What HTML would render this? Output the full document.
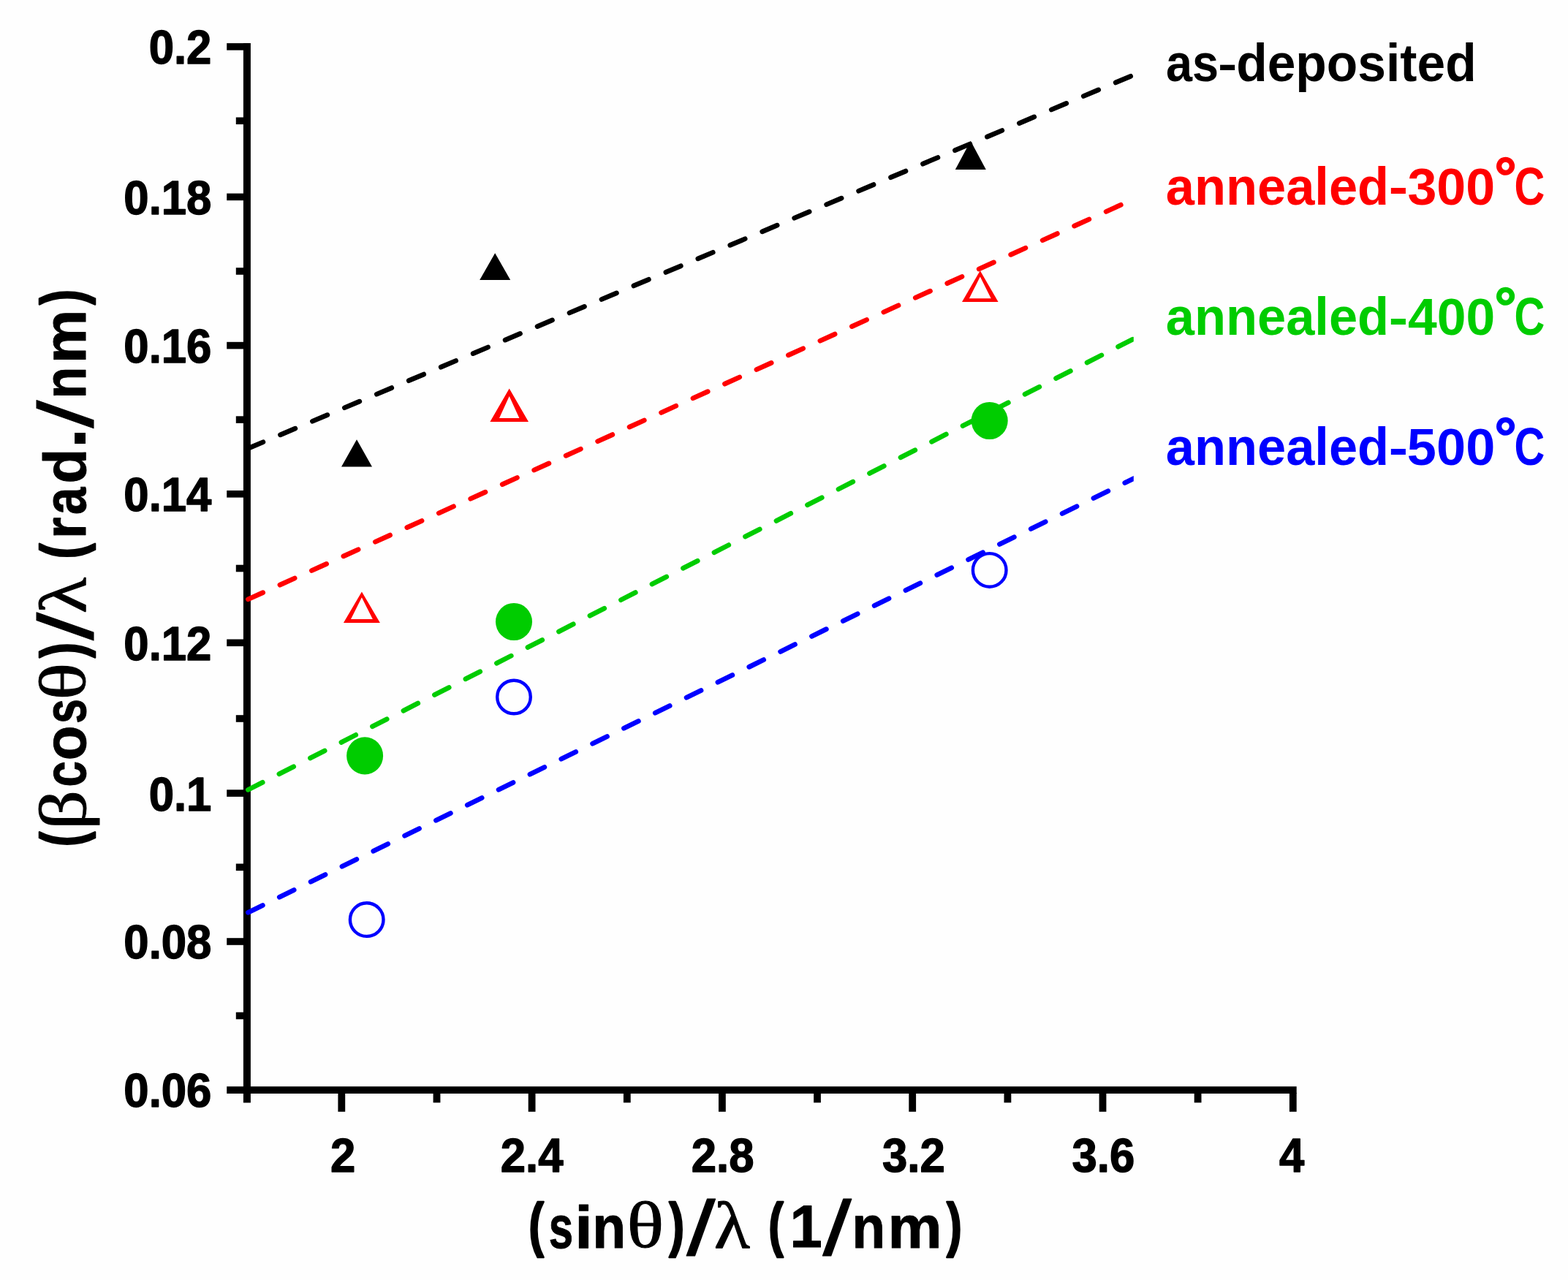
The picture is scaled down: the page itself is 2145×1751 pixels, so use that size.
<!DOCTYPE html>
<html lang="en"><head><meta charset="utf-8"><title>Williamson-Hall plot</title>
<style>
html,body{margin:0;padding:0;background:#fefefe;}
body{width:2145px;height:1751px;overflow:hidden;}
svg{display:block;}
text{font-family:"Liberation Sans",sans-serif;font-weight:bold;font-kerning:none;white-space:pre;}
.r{font-weight:normal;}
.g{font-family:"Liberation Serif",serif;font-weight:normal;}
.gb{font-family:"Liberation Serif",serif;font-weight:bold;}
.ax line{stroke:#000;fill:none;}
.dl line{fill:none;stroke-width:6.7;stroke-linecap:round;stroke-dasharray:22.2 25.5;stroke-dashoffset:-2.7;}
</style></head><body>
<svg width="2145" height="1751" viewBox="0 0 2145 1751">
<rect width="2145" height="1751" fill="#fefefe"/>
<defs><clipPath id="pc"><rect x="333" y="0" width="1217.8" height="1486"/></clipPath></defs>
<g class="ax">
<line x1="337.9" y1="59.1" x2="337.9" y2="1508.4" stroke-width="10"/>
<line x1="310.2" y1="1491.1" x2="1773.7" y2="1491.1" stroke-width="9.8"/>
<line x1="310.2" y1="63.9" x2="334" y2="63.9" stroke-width="9.6"/>
<line x1="322.8" y1="165.3" x2="334" y2="165.3" stroke-width="9.6"/>
<line x1="310.2" y1="269.4" x2="334" y2="269.4" stroke-width="9.6"/>
<line x1="322.8" y1="371.0" x2="334" y2="371.0" stroke-width="9.6"/>
<line x1="310.2" y1="472.6" x2="334" y2="472.6" stroke-width="9.6"/>
<line x1="322.8" y1="574.1" x2="334" y2="574.1" stroke-width="9.6"/>
<line x1="310.2" y1="675.8" x2="334" y2="675.8" stroke-width="9.6"/>
<line x1="322.8" y1="777.5" x2="334" y2="777.5" stroke-width="9.6"/>
<line x1="310.2" y1="879.3" x2="334" y2="879.3" stroke-width="9.6"/>
<line x1="322.8" y1="983.0" x2="334" y2="983.0" stroke-width="9.6"/>
<line x1="310.2" y1="1085.1" x2="334" y2="1085.1" stroke-width="9.6"/>
<line x1="322.8" y1="1186.3" x2="334" y2="1186.3" stroke-width="9.6"/>
<line x1="310.2" y1="1288.0" x2="334" y2="1288.0" stroke-width="9.6"/>
<line x1="322.8" y1="1389.5" x2="334" y2="1389.5" stroke-width="9.6"/>
<line x1="467.3" y1="1495" x2="467.3" y2="1520.8" stroke-width="9.8"/>
<line x1="597.5" y1="1495" x2="597.5" y2="1508.4" stroke-width="9.8"/>
<line x1="727.6" y1="1495" x2="727.6" y2="1520.8" stroke-width="9.8"/>
<line x1="857.8" y1="1495" x2="857.8" y2="1508.4" stroke-width="9.8"/>
<line x1="987.9" y1="1495" x2="987.9" y2="1520.8" stroke-width="9.8"/>
<line x1="1118.0" y1="1495" x2="1118.0" y2="1508.4" stroke-width="9.8"/>
<line x1="1248.2" y1="1495" x2="1248.2" y2="1520.8" stroke-width="9.8"/>
<line x1="1378.4" y1="1495" x2="1378.4" y2="1508.4" stroke-width="9.8"/>
<line x1="1508.5" y1="1495" x2="1508.5" y2="1520.8" stroke-width="9.8"/>
<line x1="1638.6" y1="1495" x2="1638.6" y2="1508.4" stroke-width="9.8"/>
<line x1="1768.8" y1="1495" x2="1768.8" y2="1520.8" stroke-width="9.8"/>
</g>
<g class="dl" clip-path="url(#pc)">
<line x1="337.0" y1="614.4" x2="1551.0" y2="102.5" stroke="#000000"/>
<line x1="337.0" y1="820.9" x2="1551.0" y2="272.3" stroke="#ff0000"/>
<line x1="337.0" y1="1081.6" x2="1551.0" y2="463.4" stroke="#00cc00"/>
<line x1="337.0" y1="1249.4" x2="1551.0" y2="654.5" stroke="#0000ff"/>
</g>
<g>
<polygon points="488.0,601.2 467.0,638.6 509.0,638.6" fill="#000"/>
<polygon points="677.2,346.3 656.2,383.1 698.2,383.1" fill="#000"/>
<polygon points="1327.8,192.7 1306.8,232.0 1348.8,232.0" fill="#000"/>
<polygon fill="#ff0000" points="494.9,809.4 469.9,851.9 519.9,851.9"/>
<polygon fill="#fefefe" points="494.9,817.3 509.8,847.0 480.0,847.0"/>
<polygon fill="#ff0000" points="696.7,531.5 670.4,576.9 723.0,576.9"/>
<polygon fill="#fefefe" points="696.7,542.0 710.4,572.0 683.0,572.0"/>
<polygon fill="#ff0000" points="1340.8,370.2 1316.0,413.1 1365.6,413.1"/>
<polygon fill="#fefefe" points="1340.8,378.4 1355.7,408.2 1325.9,408.2"/>
<ellipse cx="499.1" cy="1033.9" rx="25" ry="25.6" fill="#00cc00"/>
<ellipse cx="703.0" cy="850.5" rx="25" ry="25.6" fill="#00cc00"/>
<ellipse cx="1353.7" cy="575.5" rx="25" ry="25.6" fill="#00cc00"/>
<circle cx="501.7" cy="1258.1" r="22.8" fill="none" stroke="#0000ff" stroke-width="4.4"/>
<circle cx="703.0" cy="953.5" r="22.8" fill="none" stroke="#0000ff" stroke-width="4.4"/>
<circle cx="1353.7" cy="779.9" r="22.8" fill="none" stroke="#0000ff" stroke-width="4.4"/>
</g>
<g font-size="64.6" stroke="#000" stroke-width="1.4" stroke-linejoin="round">
<text transform="translate(203.66 87.34) scale(0.9547 1)">0.2</text>
<text transform="translate(169.36 292.84) scale(0.9547 1)">0.18</text>
<text transform="translate(169.36 496.04) scale(0.9547 1)">0.16</text>
<text transform="translate(169.36 699.24) scale(0.9547 1)">0.14</text>
<text transform="translate(169.36 902.74) scale(0.9547 1)">0.12</text>
<text transform="translate(203.66 1108.54) scale(0.9547 1)">0.1</text>
<text transform="translate(169.36 1311.44) scale(0.9547 1)">0.08</text>
<text transform="translate(169.36 1514.44) scale(0.9547 1)">0.06</text>
<text transform="translate(452.02 1603.30) scale(0.9547 1)">2</text>
<text transform="translate(684.73 1603.30) scale(0.9547 1)">2.4</text>
<text transform="translate(945.71 1603.30) scale(0.9547 1)">2.8</text>
<text transform="translate(1206.96 1603.30) scale(0.9547 1)">3.2</text>
<text transform="translate(1466.54 1603.30) scale(0.9547 1)">3.6</text>
<text transform="translate(1750.05 1603.30) scale(0.9547 1)">4</text>
</g>
<text fill="#000000" stroke="#000000" stroke-width="0"><tspan x="1594.90" y="111.10" font-size="71.50" textLength="72.16" lengthAdjust="spacingAndGlyphs">as</tspan><tspan x="1665.91" y="108.24" font-size="61.27" textLength="26.36" lengthAdjust="spacingAndGlyphs">-</tspan><tspan x="1691.15" y="111.10" font-size="71.50" textLength="328.54" lengthAdjust="spacingAndGlyphs">deposited</tspan></text>
<text fill="#ff0000" stroke="#ff0000" stroke-width="0"><tspan x="1594.74" y="279.60" font-size="71.50" textLength="305.41" lengthAdjust="spacingAndGlyphs">annealed</tspan><tspan x="1899.71" y="278.04" font-size="66.31" textLength="26.36" lengthAdjust="spacingAndGlyphs">-</tspan><tspan x="1925.45" y="279.50" font-size="70.90" textLength="119.79" lengthAdjust="spacingAndGlyphs">300</tspan><tspan x="2044.40" y="268.63" font-size="76.07" textLength="30.03" lengthAdjust="spacingAndGlyphs" stroke-width="1.6">°</tspan><tspan x="2071.53" y="279.60" font-size="71.89" textLength="41.75" lengthAdjust="spacingAndGlyphs">C</tspan></text>
<text fill="#00cc00" stroke="#00cc00" stroke-width="0"><tspan x="1594.74" y="458.20" font-size="71.50" textLength="305.41" lengthAdjust="spacingAndGlyphs">annealed</tspan><tspan x="1899.71" y="456.64" font-size="66.31" textLength="26.36" lengthAdjust="spacingAndGlyphs">-</tspan><tspan x="1926.02" y="458.21" font-size="71.04" textLength="119.21" lengthAdjust="spacingAndGlyphs">400</tspan><tspan x="2044.40" y="447.23" font-size="76.07" textLength="30.03" lengthAdjust="spacingAndGlyphs" stroke-width="1.6">°</tspan><tspan x="2071.53" y="458.20" font-size="71.89" textLength="41.75" lengthAdjust="spacingAndGlyphs">C</tspan></text>
<text fill="#0000ff" stroke="#0000ff" stroke-width="0"><tspan x="1594.74" y="636.10" font-size="71.50" textLength="305.41" lengthAdjust="spacingAndGlyphs">annealed</tspan><tspan x="1899.71" y="634.54" font-size="66.31" textLength="26.36" lengthAdjust="spacingAndGlyphs">-</tspan><tspan x="1924.88" y="636.11" font-size="71.04" textLength="120.38" lengthAdjust="spacingAndGlyphs">500</tspan><tspan x="2044.40" y="625.13" font-size="76.07" textLength="30.03" lengthAdjust="spacingAndGlyphs" stroke-width="1.6">°</tspan><tspan x="2071.53" y="636.10" font-size="71.89" textLength="41.75" lengthAdjust="spacingAndGlyphs">C</tspan></text>
<text stroke="#000" stroke-width="0" stroke-linejoin="round"><tspan x="723.21" y="1703.22" font-size="82.28" textLength="20.65" lengthAdjust="spacingAndGlyphs" stroke-width="2.6">(</tspan><tspan x="750.79" y="1706.80" font-size="81.00" textLength="33.37" lengthAdjust="spacingAndGlyphs" stroke-width="1">s</tspan><tspan x="786.34" y="1706.80" font-size="81.00" textLength="24.50" lengthAdjust="spacingAndGlyphs" stroke-width="1">i</tspan><tspan x="810.49" y="1706.80" font-size="81.00" textLength="45.54" lengthAdjust="spacingAndGlyphs" stroke-width="1">n</tspan><tspan class="g" x="857.44" y="1705.63" font-size="89.14" textLength="50.65" lengthAdjust="spacingAndGlyphs" stroke-width="1">θ</tspan><tspan x="915.14" y="1703.22" font-size="82.28" textLength="20.88" lengthAdjust="spacingAndGlyphs" stroke-width="2.6">)</tspan><tspan class="r" x="939.20" y="1717.26" font-size="106.49" textLength="39.30" lengthAdjust="spacingAndGlyphs" stroke-width="1">/</tspan><tspan class="g" x="976.82" y="1706.80" font-size="90.90" textLength="49.22" lengthAdjust="spacingAndGlyphs" stroke-width="1">λ</tspan><tspan> </tspan><tspan x="1051.35" y="1703.22" font-size="82.28" textLength="20.41" lengthAdjust="spacingAndGlyphs" stroke-width="2.6">(</tspan><tspan x="1080.59" y="1706.30" font-size="81.69" textLength="44.22" lengthAdjust="spacingAndGlyphs" stroke-width="1">1</tspan><tspan class="r" x="1125.40" y="1717.26" font-size="106.49" textLength="39.30" lengthAdjust="spacingAndGlyphs" stroke-width="1">/</tspan><tspan x="1165.59" y="1706.80" font-size="81.00" textLength="45.54" lengthAdjust="spacingAndGlyphs" stroke-width="1">n</tspan><tspan x="1214.61" y="1706.80" font-size="81.00" textLength="74.05" lengthAdjust="spacingAndGlyphs" stroke-width="1">m</tspan><tspan x="1295.04" y="1703.22" font-size="82.28" textLength="20.88" lengthAdjust="spacingAndGlyphs" stroke-width="2.6">)</tspan></text>
<text transform="translate(116.7 0) rotate(-90)" stroke="#000" stroke-width="0" stroke-linejoin="round"><tspan x="-1158.00" y="-3.58" font-size="82.28" textLength="20.06" lengthAdjust="spacingAndGlyphs" stroke-width="2.6">(</tspan><tspan class="g" x="-1135.06" y="-0.19" font-size="90.62" textLength="54.19" lengthAdjust="spacingAndGlyphs" stroke-width="1">β</tspan><tspan x="-1076.50" y="0.00" font-size="81.00" textLength="35.57" lengthAdjust="spacingAndGlyphs" stroke-width="1">c</tspan><tspan x="-1040.15" y="0.00" font-size="81.00" textLength="47.70" lengthAdjust="spacingAndGlyphs" stroke-width="1">o</tspan><tspan x="-989.72" y="0.00" font-size="81.00" textLength="33.49" lengthAdjust="spacingAndGlyphs" stroke-width="1">s</tspan><tspan class="g" x="-957.44" y="-1.17" font-size="89.14" textLength="50.53" lengthAdjust="spacingAndGlyphs" stroke-width="1">θ</tspan><tspan x="-899.76" y="-3.58" font-size="82.28" textLength="20.53" lengthAdjust="spacingAndGlyphs" stroke-width="2.6">)</tspan><tspan class="r" x="-875.90" y="10.46" font-size="106.49" textLength="38.20" lengthAdjust="spacingAndGlyphs" stroke-width="1">/</tspan><tspan class="g" x="-839.39" y="0.00" font-size="90.90" textLength="49.44" lengthAdjust="spacingAndGlyphs" stroke-width="1">λ</tspan><tspan> </tspan><tspan x="-764.32" y="-3.58" font-size="82.28" textLength="20.88" lengthAdjust="spacingAndGlyphs" stroke-width="2.6">(</tspan><tspan x="-736.96" y="0.00" font-size="81.00" textLength="29.30" lengthAdjust="spacingAndGlyphs" stroke-width="1">r</tspan><tspan x="-704.07" y="0.00" font-size="81.00" textLength="37.45" lengthAdjust="spacingAndGlyphs" stroke-width="1">a</tspan><tspan x="-661.50" y="0.00" font-size="81.00" textLength="47.64" lengthAdjust="spacingAndGlyphs" stroke-width="1">d</tspan><tspan x="-614.21" y="0.00" font-size="100.72" textLength="29.53" lengthAdjust="spacingAndGlyphs">.</tspan><tspan class="r" x="-585.70" y="10.46" font-size="106.49" textLength="38.20" lengthAdjust="spacingAndGlyphs" stroke-width="1">/</tspan><tspan x="-545.54" y="0.00" font-size="81.00" textLength="43.89" lengthAdjust="spacingAndGlyphs" stroke-width="1">n</tspan><tspan x="-497.36" y="0.00" font-size="81.00" textLength="73.59" lengthAdjust="spacingAndGlyphs" stroke-width="1">m</tspan><tspan x="-416.76" y="-3.58" font-size="82.28" textLength="20.53" lengthAdjust="spacingAndGlyphs" stroke-width="2.6">)</tspan></text>
</svg>
</body></html>
